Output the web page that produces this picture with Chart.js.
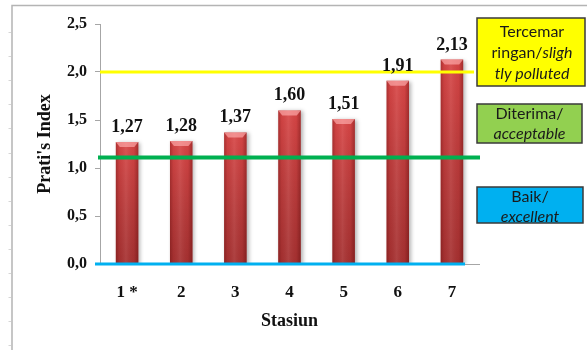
<!DOCTYPE html>
<html>
<head>
<meta charset="utf-8">
<script src="https://cdn.jsdelivr.net/npm/chart.js@4/dist/chart.umd.min.js"></script>
<style>
  html, body { margin: 0; padding: 0; background: #ffffff; }
  #wrap { width: 587px; height: 350px; position: relative; }
</style>
</head>
<body>
<div id="wrap"><canvas id="c" width="587" height="350"></canvas></div>
<script>
// Prati's Index per sampling station
const stations = ['1 *', '2', '3', '4', '5', '6', '7'];
const pratiIndex = [1.27, 1.28, 1.37, 1.60, 1.51, 1.91, 2.13];

// y-axis range and step
const yMin = 0;
const yMax = 2.5;
const yStep = 0.5;

// classification boundary lines (slightly polluted / acceptable / excellent)
const boundaryValues = [2.0, 1.11, 0.0];
const boundaryColors = ['#ffff00', '#00b050', '#00b0f0'];

// classification captions: each line is a list of [text, italic] pieces
const classFills = ['#ffff00', '#92d050', '#00b0f0'];
const classLines = [
  [[['Tercemar', false]], [['ringan/', false], ['sligh', true]], [['tly polluted', true]]],
  [[['Diterima/', false]], [['acceptable', true]]],
  [[['Baik/', false]], [['excellent', true]]]
];

const serif = '"Liberation Serif", "Times New Roman", serif';
const sans = 'Lato, "Liberation Sans", sans-serif';
const fmt = (v, d) => v.toFixed(d).replace('.', ',');

// outer frame of the figure
const framePlugin = {
  id: 'frame',
  beforeDraw(chart) {
    const ctx = chart.ctx;
    ctx.save();
    ctx.fillStyle = '#ffffff';
    ctx.fillRect(0, 0, chart.width, chart.height);
    ctx.strokeStyle = '#b4b4b4';
    ctx.lineWidth = 1.5;
    ctx.beginPath();
    ctx.moveTo(12, 350);
    ctx.lineTo(12, 5.5);
    ctx.lineTo(587, 5.5);
    ctx.stroke();
    ctx.strokeStyle = '#d6d6d6';
    ctx.lineWidth = 1;
    for (let y = 32; y < 350; y += 24.1) {
      ctx.beginPath();
      ctx.moveTo(8.5, Math.round(y) + 0.5);
      ctx.lineTo(11, Math.round(y) + 0.5);
      ctx.stroke();
    }
    ctx.restore();
  }
};

// soft shadow behind the bars, then a cylinder-like shading on top of them
const barShadePlugin = {
  id: 'barShade',
  beforeDatasetsDraw(chart) {
    const ctx = chart.ctx;
    ctx.save();
    ctx.shadowColor = 'rgba(0,0,0,0.30)';
    ctx.shadowBlur = 4;
    ctx.shadowOffsetX = 2;
    ctx.shadowOffsetY = 1;
  },
  afterDatasetsDraw(chart) {
    const ctx = chart.ctx;
    ctx.restore();
    ctx.save();
    chart.getDatasetMeta(0).data.forEach(bar => {
      const w = bar.width;
      const l = bar.x - w / 2;
      const r = bar.x + w / 2;
      const t = bar.y;
      const b = bar.base;
      const vg = ctx.createLinearGradient(0, t, 0, b);
      vg.addColorStop(0, 'rgba(0,0,0,0)');
      vg.addColorStop(1, 'rgba(50,0,0,0.30)');
      ctx.fillStyle = vg;
      ctx.fillRect(l, t, w, b - t);
      const hg = ctx.createLinearGradient(l, 0, r, 0);
      hg.addColorStop(0, 'rgba(70,0,0,0.30)');
      hg.addColorStop(0.15, 'rgba(70,0,0,0.05)');
      hg.addColorStop(0.45, 'rgba(255,255,255,0.08)');
      hg.addColorStop(0.8, 'rgba(70,0,0,0.04)');
      hg.addColorStop(1, 'rgba(70,0,0,0.35)');
      ctx.fillStyle = hg;
      ctx.fillRect(l, t, w, b - t);
      // bevelled top
      ctx.fillStyle = 'rgba(255,175,175,0.65)';
      ctx.beginPath();
      ctx.moveTo(l, t);
      ctx.lineTo(r, t);
      ctx.lineTo(r - 4, t + 5);
      ctx.lineTo(l + 4, t + 5);
      ctx.closePath();
      ctx.fill();
    });
    ctx.restore();
  }
};

// boundary lines, value labels and classification captions
const overlayPlugin = {
  id: 'overlay',
  afterDatasetsDraw(chart) {
    const ctx = chart.ctx;
    const ys = chart.scales.y;
    const area = chart.chartArea;
    const spans = [[0, -5, 3], [-2, 1, 4], [-5, -14, 3]];
    ctx.save();
    boundaryValues.forEach((v, i) => {
      const y = ys.getPixelForValue(v);
      ctx.strokeStyle = boundaryColors[i];
      ctx.lineWidth = spans[i][2];
      ctx.beginPath();
      ctx.moveTo(area.left + spans[i][0], y);
      ctx.lineTo(area.right + spans[i][1], y);
      ctx.stroke();
    });

    // value labels above the bars
    ctx.fillStyle = '#111111';
    ctx.font = 'bold 18px ' + serif;
    ctx.textAlign = 'center';
    ctx.textBaseline = 'alphabetic';
    chart.getDatasetMeta(0).data.forEach((bar, i) => {
      ctx.fillText(fmt(pratiIndex[i], 2), bar.x, bar.y - 10);
    });

    // classification captions
    const boxes = [
      { x: 477, y: 18, w: 108, h: 68, cx: 532, lines: [32, 53, 74] },
      { x: 477, y: 104, w: 105, h: 39, cx: 529.5, lines: [113.5, 134] },
      { x: 477, y: 187, w: 106, h: 36, cx: 530, lines: [197, 217] }
    ];
    boxes.forEach((bx, i) => {
      ctx.fillStyle = classFills[i];
      ctx.fillRect(bx.x, bx.y, bx.w, bx.h);
      ctx.strokeStyle = '#3a3a3a';
      ctx.lineWidth = 1.5;
      ctx.strokeRect(bx.x, bx.y, bx.w, bx.h);
      ctx.fillStyle = '#1a1a1a';
      ctx.textBaseline = 'middle';
      ctx.textAlign = 'left';
      classLines[i].forEach((parts, k) => {
        let total = 0;
        parts.forEach(([txt, it]) => {
          ctx.font = (it ? 'italic ' : '') + '16px ' + sans;
          total += ctx.measureText(txt).width;
        });
        let x = bx.cx - total / 2;
        parts.forEach(([txt, it]) => {
          ctx.font = (it ? 'italic ' : '') + '16px ' + sans;
          ctx.fillText(txt, x, bx.lines[k]);
          x += ctx.measureText(txt).width;
        });
      });
    });
    ctx.restore();
  }
};

new Chart(document.getElementById('c'), {
  type: 'bar',
  data: {
    labels: stations,
    datasets: [{
      data: pratiIndex,
      backgroundColor: '#d84646',
      borderWidth: 0,
      categoryPercentage: 1.0,
      barPercentage: 0.415
    }]
  },
  options: {
    responsive: false,
    animation: false,
    events: [],
    layout: { padding: { left: 0, right: 108, top: 24, bottom: 0 } },
    plugins: { legend: { display: false }, tooltip: { enabled: false } },
    scales: {
      x: {
        grid: { display: false, drawTicks: false },
        border: { display: true, color: '#a6a6a6', width: 1 },
        ticks: {
          color: '#111111',
          padding: 18,
          font: { family: serif, size: 17, weight: 'bold' }
        },
        title: {
          display: true,
          text: 'Stasiun',
          color: '#111111',
          font: { family: serif, size: 18, weight: 'bold' },
          padding: { top: 0, bottom: 18 }
        },
        afterFit(scale) { scale.height = 86; }
      },
      y: {
        min: yMin,
        max: yMax,
        grid: { drawOnChartArea: false, drawTicks: true, tickLength: 5, color: '#a6a6a6' },
        border: { display: true, color: '#a6a6a6', width: 1 },
        ticks: {
          stepSize: yStep,
          color: '#111111',
          padding: 8,
          font: { family: serif, size: 16, weight: 'bold' },
          callback: v => fmt(v, 1)
        },
        title: {
          display: true,
          text: "Prati's Index",
          color: '#111111',
          font: { family: serif, size: 18, weight: 'bold' },
          padding: { top: 35, bottom: 0 }
        },
        afterFit(scale) { scale.width = 100; }
      }
    }
  },
  plugins: [framePlugin, barShadePlugin, overlayPlugin]
});
</script>
</body>
</html>
